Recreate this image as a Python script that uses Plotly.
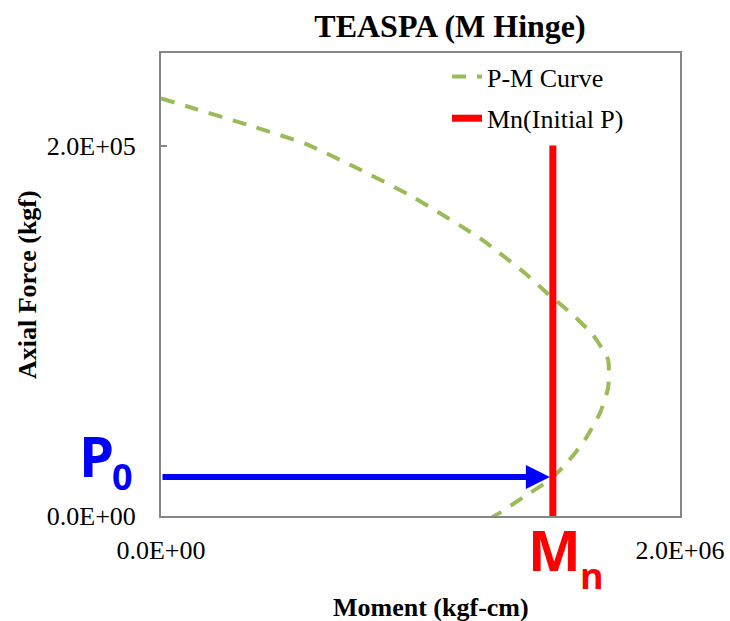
import plotly.graph_objects as go

# P-M interaction curve (moment in kgf-cm, axial force in kgf)
pm_moment = [0.0, 0.131e6, 0.343e6, 0.555e6, 0.759e6, 0.960e6, 1.152e6, 1.241e6,
             1.403e6, 1.488e6, 1.588e6, 1.665e6, 1.723e6, 1.723e6, 1.692e6,
             1.634e6, 1.565e6, 1.499e6, 1.395e6, 1.295e6, 1.26e6]
pm_axial = [225.5e3, 219.9e3, 210.8e3, 201.1e3, 187.6e3, 173.1e3, 156.9e3, 148.8e3,
            131.1e3, 120.3e3, 108.5e3, 97.7e3, 84.3e3, 69.2e3, 55.7e3,
            41.2e3, 28.8e3, 19.6e3, 10.0e3, 0.8e3, -2.0e3]

# Nominal moment at the initial axial load
mn_moment = [1.51e6, 1.51e6]
mn_axial = [0.0, 2.0e5]
initial_p = 21000.0

# Axis ticks
x_tickvals = [0.0, 2.0e6]
x_ticktext = ["0.0E+00", "2.0E+06"]
y_tickvals = [0.0, 2.0e5]
y_ticktext = ["0.0E+00", "2.0E+05"]

SERIF = "Liberation Serif, Times New Roman, serif"
SANS = "Open Sans, Arial, sans-serif"
AXIS_GRAY = "#868686"

fig = go.Figure()
fig.add_trace(go.Scatter(
    x=pm_moment, y=pm_axial, mode="lines", name="P-M Curve", legendgroup="pm",
    line=dict(color="#9BBB59", width=4, dash="14px,11px", shape="spline", smoothing=0.5),
))
fig.add_trace(go.Scatter(
    x=mn_moment, y=mn_axial, mode="lines", name="Mn(Initial P)", legendgroup="mn",
    line=dict(color="#FF0000", width=7),
))

# Arrow from the axial-force axis to the Mn line at the initial load
fig.add_annotation(
    x=mn_moment[0], y=initial_p, ax=0.0, ay=initial_p,
    xref="x", yref="y", axref="x", ayref="y",
    text="", showarrow=True, arrowhead=2, arrowsize=0.8, arrowwidth=6,
    arrowcolor="#0000FF", standoff=3,
)

# P0 and Mn labels (pixel positions, converted below)
fig.add_annotation(x=96, y=455, xref="paper", yref="paper", text="<b>P</b>",
                   showarrow=False, font=dict(family=SANS, size=56, color="#0000FF"))
fig.add_annotation(x=122, y=476, xref="paper", yref="paper", text="<b>0</b>",
                   showarrow=False, font=dict(family=SANS, size=36, color="#0000FF"))
fig.add_annotation(x=554, y=549, xref="paper", yref="paper", text="<b>M</b>",
                   showarrow=False, font=dict(family=SANS, size=56, color="#FF0000"))
fig.add_annotation(x=592, y=575, xref="paper", yref="paper", text="<b>n</b>",
                   showarrow=False, font=dict(family=SANS, size=36, color="#FF0000"))

# Convert pixel-based label positions to paper fractions
W, H = 730, 621
L, R, T, B = 161, 50, 53, 105
pw, ph = W - L - R, H - T - B
for ann in fig.layout.annotations:
    if ann.xref == "paper":
        ann.x = (ann.x - L) / pw
        ann.y = 1 - (ann.y - T) / ph
        ann.xanchor = "center"
        ann.yanchor = "middle"

# Axis titles
fig.add_annotation(x=(431 - L) / pw, y=1 - (607 - T) / ph, xref="paper", yref="paper",
                   text="<b>Moment (kgf-cm)</b>", showarrow=False,
                   font=dict(family=SERIF, size=26, color="black"),
                   xanchor="center", yanchor="middle")
fig.add_annotation(x=(27 - L) / pw, y=1 - (285 - T) / ph, xref="paper", yref="paper",
                   text="<b>Axial Force (kgf)</b>", showarrow=False, textangle=-90,
                   font=dict(family=SERIF, size=26, color="black"),
                   xanchor="center", yanchor="middle")

fig.update_layout(
    width=W, height=H,
    margin=dict(l=L, r=R, t=T, b=B, autoexpand=False),
    paper_bgcolor="white", plot_bgcolor="white",
    title=dict(text="<b>TEASPA (M Hinge)</b>", x=450 / W, y=1 - 26 / H,
               xref="container", yref="container", xanchor="center", yanchor="middle",
               font=dict(family=SERIF, size=32, color="black")),
    showlegend=True,
    legend=dict(x=(447 - L) / pw, y=1 - (53 - T) / ph, xanchor="left", yanchor="top",
                bgcolor="rgba(0,0,0,0)", font=dict(family=SERIF, size=26, color="black"),
                traceorder="grouped", tracegroupgap=5),
)
fig.update_xaxes(
    range=[0, 2.0e6], tickvals=x_tickvals, ticktext=x_ticktext, automargin=False,
    showgrid=False, zeroline=False, showline=True, linecolor=AXIS_GRAY, linewidth=2,
    mirror=True, ticks="inside", ticklen=6, tickcolor=AXIS_GRAY, tickwidth=2,
    ticklabelstandoff=10, tickfont=dict(family=SERIF, size=26, color="black"),
)
fig.update_yaxes(
    range=[0, 2.5e5], tickvals=y_tickvals, ticktext=y_ticktext, automargin=False,
    showgrid=False, zeroline=False, showline=True, linecolor=AXIS_GRAY, linewidth=2,
    mirror=True, ticks="inside", ticklen=6, tickcolor=AXIS_GRAY, tickwidth=2,
    ticklabelstandoff=18, tickfont=dict(family=SERIF, size=26, color="black"),
)

fig.write_html("out.html")
